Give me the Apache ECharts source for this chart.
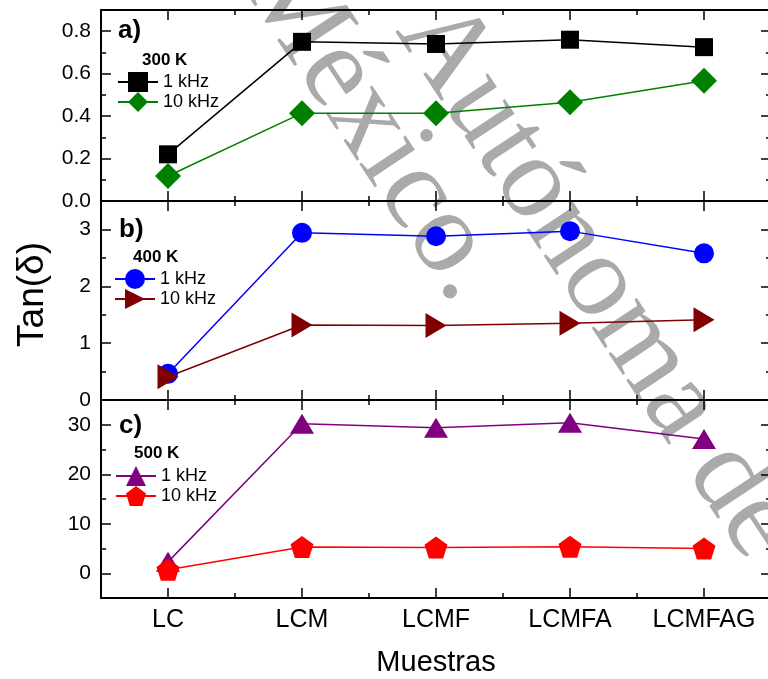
<!DOCTYPE html>
<html>
<head>
<meta charset="utf-8">
<script src="https://cdn.jsdelivr.net/npm/echarts@6/dist/echarts.min.js"></script>
<style>
html,body{margin:0;padding:0;background:#fff;}
#chart{width:768px;height:679px;}
</style>
</head>
<body>
<div id="chart"></div>
<script>
// ---- data ----
const categories = ['LC', 'LCM', 'LCMF', 'LCMFA', 'LCMFAG'];
const tan300k_1kHz  = [0.22, 0.75, 0.74, 0.76, 0.725];
const tan300k_10kHz = [0.118, 0.414, 0.414, 0.465, 0.567];
const tan400k_1kHz  = [0.46, 2.94, 2.88, 2.97, 2.58];
const tan400k_10kHz = [0.41, 1.32, 1.31, 1.35, 1.41];
const tan500k_1kHz  = [2.3, 30.2, 29.4, 30.4, 27.1];
const tan500k_10kHz = [0.7, 5.3, 5.2, 5.35, 5.0];
const panelLabels = ['a)', 'b)', 'c)'];
const tempLabels = ['300 K', '400 K', '500 K'];
const freqLabels = ['1 kHz', '10 kHz'];
const xAxisTitle = 'Muestras';
const yAxisTitle = 'Tan(\u03B4)';
const watermarkTexts = ['Autónoma de', 'México.'];

const FONT = '"Liberation Sans", Arial, sans-serif';
const GW = 670;
const grids = [
  {left: 101, width: GW, top: 10, height: 191, outerBoundsMode: 'none'},
  {left: 101, width: GW, top: 201, height: 199, outerBoundsMode: 'none'},
  {left: 101, width: GW, top: 400, height: 198, outerBoundsMode: 'none'}
];
const yCfg = [
  {min: 0, max: 0.9, interval: 0.2, minor: 0.1, fmt: v => v.toFixed(1)},
  {min: 0, max: 3.5, interval: 1, minor: 0.5, fmt: v => String(v)},
  {min: -5, max: 35, interval: null, minor: 5, fmt: v => String(v)}
];

const xAxes = [], yAxes = [];
grids.forEach((g, gi) => {
  const last = gi === 2;
  ['bottom', 'top'].forEach(pos => {
    xAxes.push({
      gridIndex: gi, type: 'category', data: categories, position: pos, boundaryGap: true,
      axisLine: {show: true, onZero: false, lineStyle: {color: '#000', width: 2}},
      axisTick: {show: true, inside: true, alignWithLabel: true, interval: 0, length: 10, lineStyle: {color: '#000', width: 1.5}},
      axisLabel: {show: last && pos === 'bottom', interval: 0, margin: 10, color: '#000', fontSize: 25, fontFamily: FONT},
      splitLine: {show: false},
      name: (last && pos === 'bottom') ? xAxisTitle : '',
      nameLocation: 'middle', nameGap: 50,
      nameTextStyle: {color: '#000', fontSize: 29, fontFamily: FONT}
    });
    xAxes.push({
      gridIndex: gi, type: 'category', data: categories, position: pos, boundaryGap: true,
      axisLine: {show: false, onZero: false},
      axisTick: {show: true, inside: true, alignWithLabel: false, interval: 0, length: 5, lineStyle: {color: '#000', width: 1.5}},
      axisLabel: {show: false}, splitLine: {show: false}
    });
  });
  const c = yCfg[gi];
  ['left', 'right'].forEach(side => {
    const major = {
      gridIndex: gi, type: 'value', position: side, min: c.min, max: c.max,
      axisLine: {show: true, onZero: false, lineStyle: {color: '#000', width: 2}},
      axisTick: {show: true, inside: true, length: 10, lineStyle: {color: '#000', width: 1.5}},
      axisLabel: side === 'left'
        ? {show: true, margin: 10, color: '#000', fontSize: 21, fontFamily: FONT,
           showMaxLabel: false, showMinLabel: gi !== 2, formatter: c.fmt}
        : {show: false},
      splitLine: {show: false}
    };
    if (c.interval !== null) major.interval = c.interval; else major.splitNumber = 4;
    if (gi === 1 && side === 'left') {
      major.name = yAxisTitle; major.nameLocation = 'middle'; major.nameGap = 50; major.nameRotate = 90;
      major.nameTextStyle = {color: '#000', fontSize: 37, fontFamily: FONT, padding: [0, 0, 0, 12]};
    }
    yAxes.push(major);
    yAxes.push({
      gridIndex: gi, type: 'value', position: side, min: c.min, max: c.max, interval: c.minor,
      axisLine: {show: false, onZero: false},
      axisTick: {show: true, inside: true, length: 5, lineStyle: {color: '#000', width: 1.5}},
      axisLabel: {show: false}, splitLine: {show: false}
    });
  });
});

const PENTAGON = 'path://M50,0 L100,37 L81,100 L19,100 L0,37 Z';
function mk(name, gi, data, color, symbol, size, rotate) {
  return {
    name: name, type: 'line', xAxisIndex: gi * 4, yAxisIndex: gi * 4, data: data,
    symbol: symbol, symbolSize: size, symbolRotate: rotate || 0,
    lineStyle: {color: color, width: 1.5}, itemStyle: {color: color},
    showAllSymbol: true, animation: false, z: 3
  };
}
const series = [
  mk(freqLabels[0] + ' (300 K)', 0, tan300k_1kHz, '#000000', 'rect', 18),
  mk(freqLabels[1] + ' (300 K)', 0, tan300k_10kHz, '#008000', 'diamond', 26),
  mk(freqLabels[0] + ' (400 K)', 1, tan400k_1kHz, '#0000ff', 'circle', 20),
  mk(freqLabels[1] + ' (400 K)', 1, tan400k_10kHz, '#800000', 'triangle', [25, 21], -90),
  mk(freqLabels[0] + ' (500 K)', 2, tan500k_1kHz, '#800080', 'triangle', [24, 20]),
  mk(freqLabels[1] + ' (500 K)', 2, tan500k_10kHz, '#ff0000', PENTAGON, [23, 22])
];

const legendPos = [{left: 117, top: 72}, {left: 114, top: 269}, {left: 115, top: 466}];
const legends = legendPos.map((p, gi) => ({
  left: p.left, top: p.top, orient: 'vertical', padding: 0, itemGap: 0,
  itemWidth: 40, itemHeight: 25, selectedMode: false,
  data: [series[gi * 2].name, series[gi * 2 + 1].name],
  formatter: n => n.replace(/ \(.*\)$/, ''),
  textStyle: {color: '#000', fontSize: 18, fontFamily: FONT}
}));

const panelPos = [{x: 118, y: 31}, {x: 119, y: 230}, {x: 119, y: 426}];
const tempPos = [{x: 142, y: 60}, {x: 133, y: 257}, {x: 134, y: 453}];
const graphics = [];
panelPos.forEach((p, i) => {
  graphics.push({type: 'text', x: p.x, y: p.y, z: 10,
    style: {text: panelLabels[i], fill: '#000', font: 'bold 26px ' + FONT,
            align: 'left', verticalAlign: 'middle', textAlign: 'left', textVerticalAlign: 'middle'}});
});
tempPos.forEach((p, i) => {
  graphics.push({type: 'text', x: p.x, y: p.y, z: 10,
    style: {text: tempLabels[i], fill: '#000', font: 'bold 17px ' + FONT,
            align: 'left', verticalAlign: 'middle', textAlign: 'left', textVerticalAlign: 'middle'}});
});
// watermark
const wmPos = [{x: 597, y: 280}, {x: 372, y: 127}];
wmPos.forEach((w, i) => {
  graphics.push({type: 'text', x: w.x, y: w.y, rotation: -56.5 * Math.PI / 180, z: -1, silent: true,
    style: {text: watermarkTexts[i], fill: '#aaaaaa', font: '118px "Liberation Serif", serif',
            align: 'center', verticalAlign: 'middle', textAlign: 'center', textVerticalAlign: 'middle'}});
});

const chart = echarts.init(document.getElementById('chart'), null, {renderer: 'canvas'});
chart.setOption({
  backgroundColor: '#fff',
  animation: false,
  grid: grids,
  xAxis: xAxes,
  yAxis: yAxes,
  legend: legends,
  series: series,
  graphic: {elements: graphics}
});
</script>
</body>
</html>
